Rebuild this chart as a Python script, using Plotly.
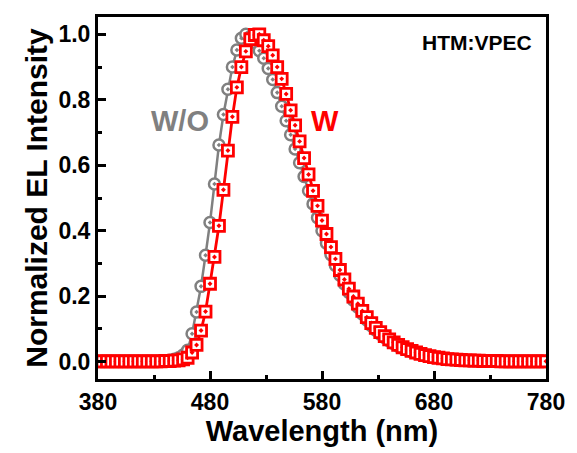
import plotly.graph_objects as go

# Wavelength grid (nm), 4 nm sampling
wavelength = list(range(380, 781, 4))

# Normalized EL spectra
el_without = [
    0.001, 0.001, 0.001, 0.001, 0.001, 0.001, 0.001, 0.001, 0.001, 0.001,
    0.001, 0.001, 0.001, 0.001, 0.001, 0.002, 0.004, 0.007, 0.012, 0.020,
    0.035, 0.085, 0.152, 0.230, 0.325, 0.425, 0.543, 0.662, 0.755, 0.832,
    0.900, 0.952, 0.988, 1.000, 0.993, 0.975, 0.950, 0.927, 0.896, 0.862,
    0.822, 0.780, 0.736, 0.693, 0.650, 0.608, 0.566, 0.522, 0.482, 0.440,
    0.400, 0.362, 0.327, 0.294, 0.264, 0.237, 0.211, 0.188, 0.166, 0.146,
    0.127, 0.110, 0.096, 0.084, 0.073, 0.063, 0.055, 0.047, 0.041, 0.035,
    0.030, 0.026, 0.022, 0.018, 0.015, 0.013, 0.011, 0.009, 0.007, 0.006,
    0.005, 0.004, 0.004, 0.003, 0.003, 0.002, 0.002, 0.002, 0.002, 0.001,
    0.001, 0.001, 0.001, 0.001, 0.001, 0.001, 0.001, 0.001, 0.001, 0.001,
    0.001,
]

el_with = [
    0.001, 0.001, 0.001, 0.001, 0.001, 0.001, 0.001, 0.001, 0.001, 0.001,
    0.001, 0.001, 0.001, 0.001, 0.001, 0.002, 0.002, 0.003, 0.004, 0.007,
    0.012, 0.028, 0.051, 0.095, 0.153, 0.238, 0.320, 0.415, 0.525, 0.645,
    0.748, 0.838, 0.900, 0.948, 0.985, 0.998, 1.000, 0.982, 0.964, 0.936,
    0.900, 0.864, 0.818, 0.768, 0.722, 0.673, 0.622, 0.572, 0.522, 0.476,
    0.431, 0.390, 0.350, 0.314, 0.280, 0.251, 0.223, 0.199, 0.177, 0.155,
    0.136, 0.118, 0.103, 0.090, 0.078, 0.068, 0.059, 0.051, 0.044, 0.038,
    0.033, 0.028, 0.024, 0.020, 0.017, 0.014, 0.012, 0.010, 0.008, 0.007,
    0.006, 0.005, 0.004, 0.004, 0.003, 0.003, 0.002, 0.002, 0.002, 0.002,
    0.001, 0.001, 0.001, 0.001, 0.001, 0.001, 0.001, 0.001, 0.001, 0.001,
    0.001,
]

x_ticks = [380, 480, 580, 680, 780]
y_ticks = [0.0, 0.2, 0.4, 0.6, 0.8, 1.0]

GRAY = "#808080"
RED = "#ff0000"
FONT = "Liberation Sans, Arial, sans-serif"

fig = go.Figure()

fig.add_trace(go.Scatter(
    x=wavelength, y=el_without, mode="lines+markers", name="W/O",
    line=dict(color=GRAY, width=2.5),
    marker=dict(symbol="circle-dot", size=11, color="white",
                line=dict(color=GRAY, width=2.5)),
    cliponaxis=True,
))
fig.add_trace(go.Scatter(
    x=wavelength, y=el_with, mode="lines+markers", name="W",
    line=dict(color=RED, width=2.8),
    marker=dict(symbol="square-dot", size=11, color="white",
                line=dict(color=RED, width=2.8)),
    cliponaxis=True,
))

fig.add_annotation(x=453, y=0.735, text="<b>W/O</b>", showarrow=False,
                   font=dict(family=FONT, size=29, color=GRAY))
fig.add_annotation(x=583, y=0.735, text="<b>W</b>", showarrow=False,
                   font=dict(family=FONT, size=29, color=RED))
fig.add_annotation(x=718, y=0.975, text="<b>HTM:VPEC</b>", showarrow=False,
                   font=dict(family=FONT, size=21, color="black"))

axis_common = dict(
    showline=True, linecolor="black", linewidth=3, mirror=True,
    ticks="inside", ticklen=8, tickwidth=2.5, tickcolor="black",
    showgrid=False, zeroline=False,
    tickfont=dict(family=FONT, size=23, color="black"),
)

fig.update_xaxes(
    range=[380, 780], tickvals=x_ticks,
    ticktext=[f"<b>{v}</b>" for v in x_ticks],
    minor=dict(tickvals=[430, 530, 630, 730], ticks="inside", ticklen=4,
               tickwidth=2.5, tickcolor="black"),
    title=dict(text="<b>Wavelength (nm)</b>", standoff=4,
               font=dict(family=FONT, size=29, color="black")),
    **axis_common,
)
fig.update_yaxes(
    range=[-0.053, 1.053], tickvals=y_ticks,
    ticktext=[f"<b>{v:.1f}</b>" for v in y_ticks],
    minor=dict(tickvals=[0.1, 0.3, 0.5, 0.7, 0.9], ticks="inside", ticklen=4,
               tickwidth=2.5, tickcolor="black"),
    title=dict(text="<b>Normalized EL Intensity</b>", standoff=2,
               font=dict(family=FONT, size=30, color="black")),
    **axis_common,
)

fig.update_layout(
    width=577, height=453,
    margin=dict(l=98, r=23, t=17, b=74),
    paper_bgcolor="white", plot_bgcolor="white",
    showlegend=False,
)

fig.write_html("out.html")
